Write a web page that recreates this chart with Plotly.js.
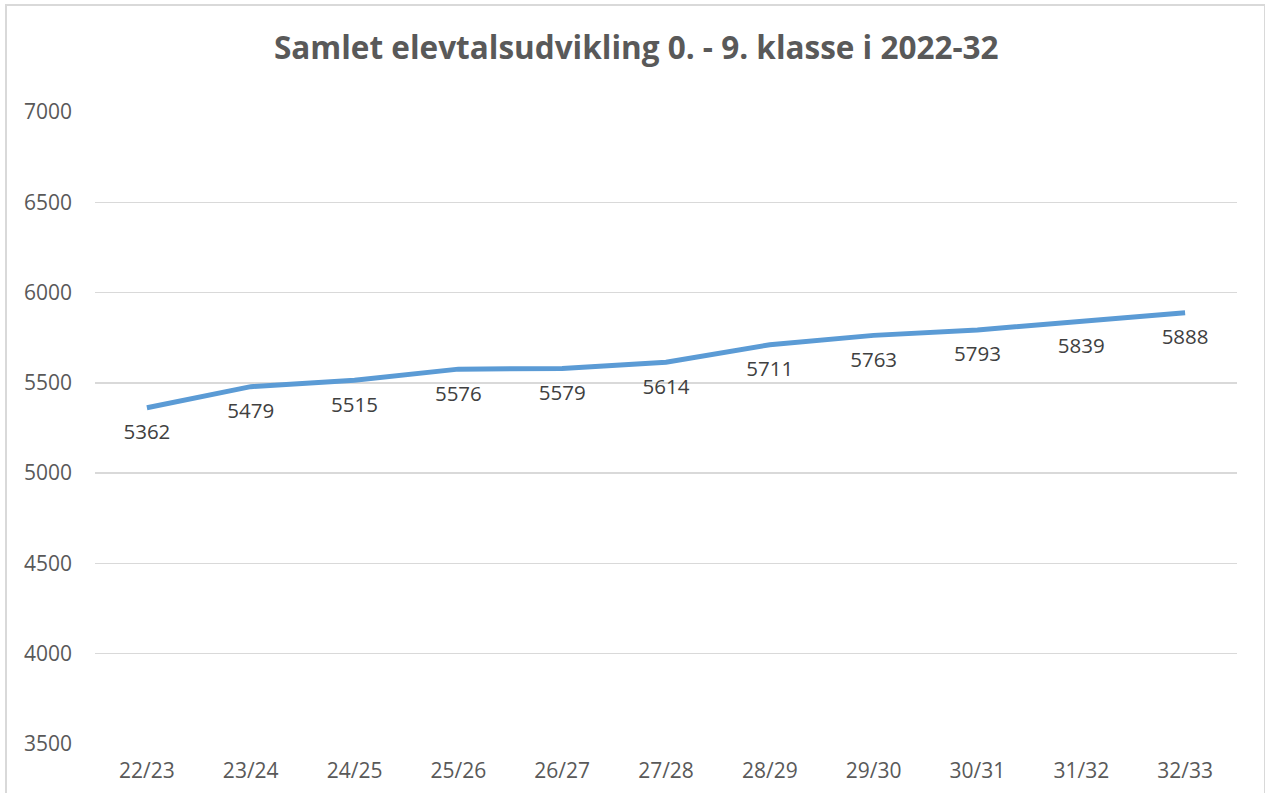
<!DOCTYPE html>
<html>
<head>
<meta charset="utf-8">
<script src="https://cdn.plot.ly/plotly-3.0.1.min.js"></script>
<style>
html,body{margin:0;padding:0;background:#fff;}
#wrap{position:relative;width:1265px;height:793px;overflow:hidden;}
#chart{position:absolute;left:0;top:0;width:1265px;height:793px;}
#frame{position:absolute;left:5px;top:4px;width:1257px;height:800px;border:2px solid #d9d9d9;pointer-events:none;}
</style>
</head>
<body>
<div id="wrap"><div id="chart"></div><div id="frame"></div></div>
<script>
var categories = ["22/23","23/24","24/25","25/26","26/27","27/28","28/29","29/30","30/31","31/32","32/33"];
var values = [5362,5479,5515,5576,5579,5614,5711,5763,5793,5839,5888];
var yTicks = [3500,4000,4500,5000,5500,6000,6500,7000];
var titleText = "Samlet elevtalsudvikling 0. - 9. klasse i 2022-32";

var font = "Open Sans, Noto Sans, sans-serif";
var trace = {
  x: categories, y: values, type: "scatter", mode: "lines+markers+text",
  line: {color: "#5b9bd5", width: 5},
  marker: {size: 24, color: "rgba(0,0,0,0)"},
  text: values.map(String), textposition: "bottom center",
  textfont: {family: font, size: 20.5, color: "#404040"},
  hoverinfo: "skip", cliponaxis: false
};
var layout = {
  width: 1265, height: 793,
  margin: {l: 95, r: 28, t: 112, b: 49},
  paper_bgcolor: "#fff", plot_bgcolor: "#fff",
  showlegend: false,
  title: {text: "<b>" + titleText + "</b>", x: 0.503, xanchor: "center", y: 0.94, yanchor: "middle",
    font: {family: font, size: 31.5, color: "#595959"}},
  xaxis: {type: "category", range: [-0.5, 10.5], showgrid: false, zeroline: false, showline: false,
    ticks: "", ticklabelstandoff: 12, tickfont: {family: font, size: 21, color: "#595959"}, fixedrange: true},
  yaxis: {range: [3500, 7000], tickvals: yTicks, ticktext: yTicks.map(String), showgrid: true,
    gridcolor: "#d9d9d9", gridwidth: 1.5, zeroline: false, showline: false, ticks: "",
    ticklabelstandoff: 22, tickfont: {family: font, size: 21, color: "#595959"}, fixedrange: true}
};
Plotly.newPlot("chart", [trace], layout, {displayModeBar: false, staticPlot: true});
</script>
</body>
</html>
